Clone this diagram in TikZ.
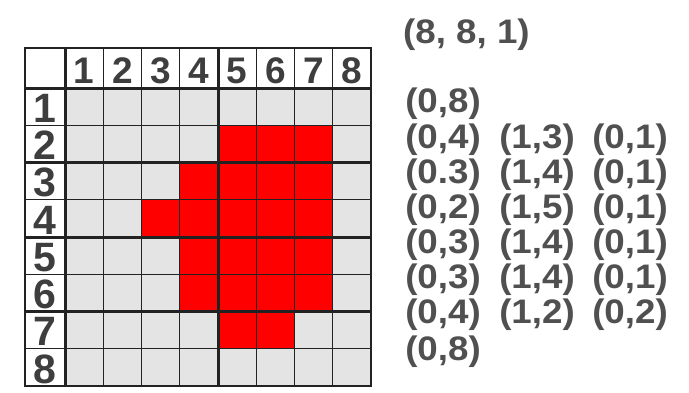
\documentclass[tikz,border=0pt]{standalone}
\usepackage{fontspec}
\setmainfont{Liberation Sans}
\definecolor{cellgray}{HTML}{E4E4E4}
\definecolor{pixred}{HTML}{FF0000}
\definecolor{gridline}{HTML}{222222}
\definecolor{digitcol}{HTML}{3E3E3E}
\definecolor{tuplecol}{HTML}{505050}
\tikzset{
  thinrule/.style={draw=gridline, line width=1.4pt},
  thickrule/.style={draw=gridline, line width=3pt},
  outerrule/.style={draw=gridline, line width=2.2pt},
  headlabel/.style={anchor=base, inner sep=0pt, text=digitcol, font=\fontsize{37}{37}\selectfont\bfseries},
  rowlabel/.style={anchor=base, inner sep=0pt, text=digitcol, font=\fontsize{41}{41}\selectfont\bfseries},
  tuple/.style={anchor=base, inner sep=0pt, text=tuplecol, xscale=1.08, transform shape, font=\fontsize{34}{34}\selectfont\bfseries},
}
\begin{document}
\begin{tikzpicture}[x=1pt,y=-1pt]
\useasboundingbox (0,0) rectangle (689,392);
\fill[white] (0,0) rectangle (689,392);
% cells
\fill[cellgray] (65,88) rectangle (371,386);
\foreach \c/\r in {5/2,6/2,7/2, 4/3,5/3,6/3,7/3, 3/4,4/4,5/4,6/4,7/4, 4/5,5/5,6/5,7/5, 4/6,5/6,6/6,7/6, 5/7,6/7}
  \fill[pixred] ({65+(\c-1)*38.25},{88+(\r-1)*37.25}) rectangle ++(38.25,37.25);
% thin grid lines
\foreach \i in {1,2,3,5,6,7}
  \draw[thinrule] ({65+\i*38.25},48) -- ({65+\i*38.25},386);
\foreach \j in {1,3,5,7}
  \draw[thinrule] (25,{88+\j*37.25}) -- (371,{88+\j*37.25});
% thick grid lines
\draw[thickrule] (65,48) -- (65,386);
\draw[thickrule] ({65+4*38.25},48) -- ({65+4*38.25},386);
\foreach \j in {0,2,4,6}
  \draw[thickrule] (25,{88+\j*37.25}) -- (371,{88+\j*37.25});
\draw[outerrule] (25,48) rectangle (371,386);
% header labels
\foreach \i in {1,...,8}
  \node[headlabel] (h\i) at ({65+(\i-0.5)*38.25},83) {\i};
\foreach \j in {1,...,8}
  \node[rowlabel] (r\j) at (45,{88+\j*37.25-3}) {\j};
% tuples
\node[tuple, anchor=base west] (dims) at (403,43) {(8, 8, 1)};
\node[tuple] (a1) at (443,112) {(0,8)};
\node[tuple] (a2) at (443,148) {(0,4)};
\node[tuple] (b2) at (537,148) {(1,3)};
\node[tuple] (c2) at (630,148) {(0,1)};
\node[tuple] (a3) at (443,183) {(0.3)};
\node[tuple] (b3) at (537,183) {(1,4)};
\node[tuple] (c3) at (630,183) {(0,1)};
\node[tuple] (a4) at (443,218) {(0,2)};
\node[tuple] (b4) at (537,218) {(1,5)};
\node[tuple] (c4) at (630,218) {(0,1)};
\node[tuple] (a5) at (443,253) {(0,3)};
\node[tuple] (b5) at (537,253) {(1,4)};
\node[tuple] (c5) at (630,253) {(0,1)};
\node[tuple] (a6) at (443,288) {(0,3)};
\node[tuple] (b6) at (537,288) {(1,4)};
\node[tuple] (c6) at (630,288) {(0,1)};
\node[tuple] (a7) at (443,323) {(0,4)};
\node[tuple] (b7) at (537,323) {(1,2)};
\node[tuple] (c7) at (630,323) {(0,2)};
\node[tuple] (a8) at (443,360) {(0,8)};
\end{tikzpicture}
\end{document}
